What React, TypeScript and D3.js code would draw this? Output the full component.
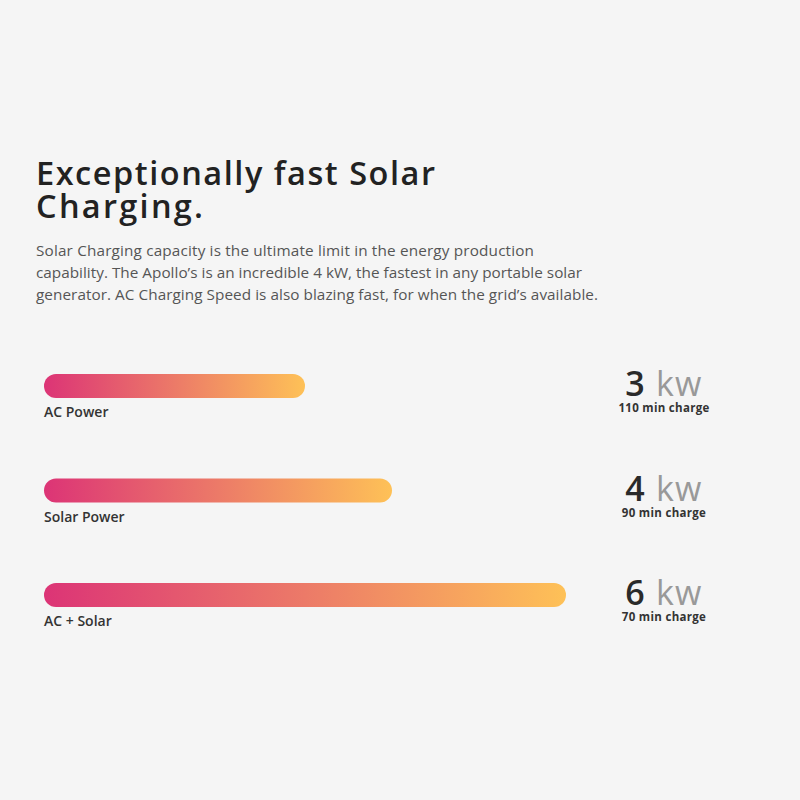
import React from "react";
import * as d3 from "d3";

const categories = ["AC Power", "Solar Power", "AC + Solar"];
const values = [3, 4, 6];
const chargeMinutes = [110, 90, 70];
const unitLabel = "kw";
const titleLines = ["Exceptionally fast Solar", "Charging."];
const paragraphLines = [
  "Solar Charging capacity is the ultimate limit in the energy production",
  "capability. The Apollo\u2019s is an incredible 4 kW, the fastest in any portable solar",
  "generator. AC Charging Speed is also blazing fast, for when the grid\u2019s available.",
];

const W = 800;
const H = 800;
const FONT = "'Open Sans', 'Noto Sans', sans-serif";

export default function App() {
  const x = d3.scaleLinear().domain([0, 6]).range([44, 566]);
  const y = d3.scalePoint<string>().domain(categories).range([386, 595]);
  const barH = 24;
  const colorStops = ["#dc3476", "#ec7a68", "#fec157"];
  const titleWidths = [399, 167];
  const paraWidths = [498, 546, 562];

  return (
    <svg
      width={W}
      height={H}
      style={{ position: "absolute", left: 0, top: 0, background: "#f5f5f5" }}
    >
      <rect x={0} y={0} width={W} height={H} fill="#f5f5f5" />
      <defs>
        {categories.map((c, i) => (
          <linearGradient
            key={c}
            id={`grad${i}`}
            gradientUnits="userSpaceOnUse"
            x1={x(0)}
            x2={x(values[i])}
            y1={0}
            y2={0}
          >
            {colorStops.map((col, k) => (
              <stop key={k} offset={`${(k / (colorStops.length - 1)) * 100}%`} stopColor={col} />
            ))}
          </linearGradient>
        ))}
      </defs>
      {titleLines.map((t, i) => (
        <text
          key={t}
          x={36}
          y={185 + i * 33}
          fontFamily={FONT}
          fontWeight={600}
          fontSize={32.5}
          fill="#222"
          textLength={titleWidths[i]}
          lengthAdjust="spacing"
        >
          {t}
        </text>
      ))}
      {paragraphLines.map((t, i) => (
        <text
          key={i}
          x={36}
          y={256 + i * 22}
          fontFamily={FONT}
          fontSize={15.3}
          fill="#555"
          textLength={paraWidths[i]}
          lengthAdjust="spacing"
        >
          {t}
        </text>
      ))}
      {categories.map((c, i) => {
        const cy = y(c) as number;
        return (
          <g key={c}>
            <rect
              x={x(0)}
              y={cy - barH / 2}
              width={x(values[i]) - x(0)}
              height={barH}
              rx={barH / 2}
              fill={`url(#grad${i})`}
            />
            <text
              x={44}
              y={cy + 31}
              fontFamily={FONT}
              fontWeight={600}
              fontSize={14}
              fill="#333"
            >
              {c}
            </text>
            <text
              x={664}
              y={cy + 10}
              textAnchor="middle"
              fontFamily={FONT}
              fontSize={34}
              letterSpacing={1.2}
            >
              <tspan fill="#2a2a2a" fontWeight={600}>{values[i]}</tspan>
              <tspan fill="#999" fontWeight={400}>{" " + unitLabel}</tspan>
            </text>
            <text
              x={664}
              y={cy + 26}
              textAnchor="middle"
              fontFamily={FONT}
              fontWeight={700}
              fontSize={11.5}
              letterSpacing={0.3}
              fill="#333"
            >
              {`${chargeMinutes[i]} min charge`}
            </text>
          </g>
        );
      })}
    </svg>
  );
}
